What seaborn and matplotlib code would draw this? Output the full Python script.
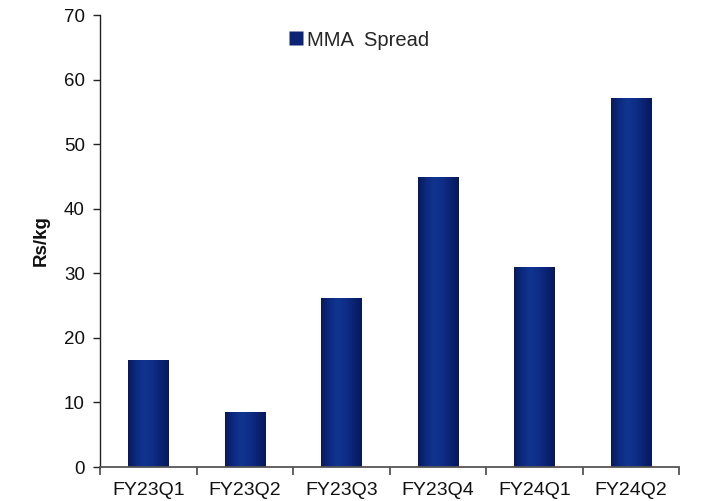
import numpy as np
import pandas as pd
import matplotlib
matplotlib.use("Agg")
import matplotlib.pyplot as plt
from matplotlib.colors import LinearSegmentedColormap
from matplotlib.lines import Line2D
import seaborn as sns

quarters = ["FY23Q1", "FY23Q2", "FY23Q3", "FY23Q4", "FY24Q1", "FY24Q2"]
mma_spread = [16.6, 8.5, 26.2, 44.9, 31.0, 57.1]
y_ticks = [0, 10, 20, 30, 40, 50, 60, 70]

df = pd.DataFrame({"quarter": quarters, "spread": mma_spread})

sns.set_theme(style="white")
plt.rcParams["font.family"] = ["Liberation Sans", "DejaVu Sans"]

fig = plt.figure(figsize=(7.02, 5.01), dpi=100)
ax = fig.add_axes([100 / 702, 1 - 467 / 501, 579 / 702, 452 / 501])

sns.barplot(data=df, x="quarter", y="spread", color="#0b2475",
            width=0.415, ax=ax, saturation=1)

# cylinder-style shading across each bar
shade = LinearSegmentedColormap.from_list(
    "cyl", ["#08195a", "#0c2a80", "#11358f", "#0e2e88", "#0a2272", "#08195a"])
grad = np.linspace(0, 1, 256).reshape(1, -1)
for p in ax.patches:
    x0, y0 = p.get_x(), p.get_y()
    w, h = p.get_width(), p.get_height()
    p.set_edgecolor("none")
    im = ax.imshow(grad, cmap=shade, aspect="auto",
                   extent=[x0, x0 + w, y0, y0 + h], zorder=p.get_zorder() + 0.1,
                   interpolation="bicubic")
    im.set_clip_path(p)

ax.set_xlim(-0.5, len(quarters) - 0.5)
ax.set_ylim(0, 70)
ax.set_yticks(y_ticks)
ax.set_yticklabels([str(v) for v in y_ticks], fontsize=13.5, color="#111111")

ax.set_xticks(range(len(quarters)))
ax.set_xticklabels(quarters, fontsize=14, color="#111111")
ax.set_xticks(np.arange(-0.5, len(quarters), 1.0), minor=True)
ax.tick_params(axis="x", which="major", length=0, pad=11)
ax.tick_params(axis="x", which="minor", length=6, width=1.3, color="#555555",
               direction="out", bottom=True)
ax.tick_params(axis="y", which="major", length=5, width=1.0, color="#222222",
               direction="out", left=True, pad=6)

ax.set_xlabel("")
ax.set_ylabel("Rs/kg", fontsize=13.5, fontweight="bold", color="#111111", labelpad=10)

for side in ["top", "right"]:
    ax.spines[side].set_visible(False)
ax.spines["left"].set_color("#222222")
ax.spines["left"].set_linewidth(1.0)
ax.spines["bottom"].set_color("#555555")
ax.spines["bottom"].set_linewidth(1.3)

handle = Line2D([], [], marker="s", linestyle="none", markersize=10,
                markerfacecolor="#0b2475", markeredgecolor="none")
fig.legend([handle], ["MMA  Spread"], loc="center",
           bbox_to_anchor=(360 / 702, 1 - 40 / 501), frameon=False,
           fontsize=14.5, handlelength=0.6, handletextpad=0.25)

fig.savefig("out.png", dpi=100)
